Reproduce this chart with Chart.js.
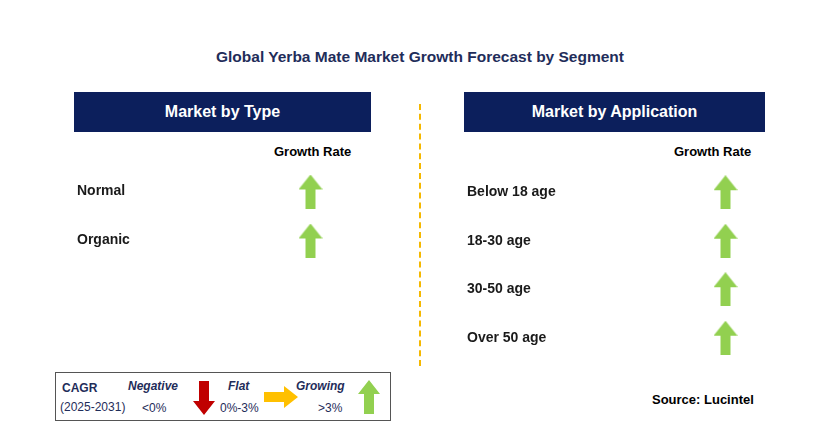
<!DOCTYPE html>
<html><head><meta charset="utf-8">
<script src="https://cdn.jsdelivr.net/npm/chart.js@4"></script>
<style>
body{margin:0;width:829px;height:448px;background:#fff;font-family:Arial,"Liberation Sans",sans-serif;position:relative;overflow:hidden}
.abs{position:absolute}
.title{left:0;width:840px;top:48px;text-align:center;font-weight:bold;font-size:15.5px;color:#1f2d5a}
.hdr{background:#0c1f5c;color:#fff;font-weight:bold;font-size:16px;text-align:center;line-height:40px;height:40px}
.gr{font-weight:bold;font-size:13px;color:#000}
.leg{left:55px;top:372px;width:334px;height:47px;border:1px solid #555;font-size:12px}
.leg span{position:absolute}
</style></head><body>
<div class="abs title">Global Yerba Mate Market Growth Forecast by Segment</div>
<div class="abs hdr" style="left:74px;top:92px;width:297px">Market by Type</div>
<div class="abs hdr" style="left:464px;top:92px;width:301px">Market by Application</div>
<div class="abs gr" style="left:274px;top:144px">Growth Rate</div>
<div class="abs gr" style="left:674px;top:144px">Growth Rate</div>
<div class="abs" style="left:419px;top:104px;height:262px;border-left:2px dashed #f5b800"></div>
<canvas id="left" class="abs" style="left:77px;top:154px"></canvas>
<canvas id="right" class="abs" style="left:467px;top:155px"></canvas>
<div class="abs leg">
 <span style="left:6px;top:8px;font-weight:bold;color:#1f2d5a">CAGR</span>
 <span style="left:4px;top:27px;color:#1f2d5a">(2025-2031)</span>
 <span style="left:72px;top:6px;font-weight:bold;font-style:italic;color:#1f2d5a">Negative</span>
 <span style="left:86px;top:28px;color:#1f2d5a">&lt;0%</span>
 <svg style="position:absolute;left:137px;top:8px" width="22" height="34"><polygon points="6,0 16,0 16,20 22,20 11,34 0,20 6,20" fill="#c00000"/></svg>
 <span style="left:172px;top:6px;font-weight:bold;font-style:italic;color:#1f2d5a">Flat</span>
 <span style="left:164px;top:28px;color:#1f2d5a">0%-3%</span>
 <svg style="position:absolute;left:208px;top:13px" width="34" height="22"><polygon points="0,6 20,6 20,0 34,11 20,22 20,16 0,16" fill="#ffc000"/></svg>
 <span style="left:240px;top:6px;font-weight:bold;font-style:italic;color:#1f2d5a">Growing</span>
 <span style="left:262px;top:28px;color:#1f2d5a">&gt;3%</span>
 <svg style="position:absolute;left:302px;top:7px" width="22" height="34"><polygon points="11,0 22,14 16,14 16,34 6,34 6,14 0,14" fill="#92d050"/></svg>
</div>
<div class="abs gr" style="left:652px;top:392px">Source: Lucintel</div>
<script>
const typeCategories = ['Normal', 'Organic'];
const typeGrowth = ['growing', 'growing'];
const appCategories = ['Below 18 age', '18-30 age', '30-50 age', 'Over 50 age'];
const appGrowth = ['growing', 'growing', 'growing', 'growing'];

function arrowImg(kind) {
    const c = document.createElement('canvas');
    c.width = 24; c.height = 34;
    const g = c.getContext('2d');
    g.fillStyle = kind === 'growing' ? '#92d050' : kind === 'flat' ? '#ffc000' : '#c00000';
    g.beginPath();
    g.moveTo(12, 0); g.lineTo(24, 15); g.lineTo(17, 15); g.lineTo(17, 34);
    g.lineTo(7, 34); g.lineTo(7, 15); g.lineTo(0, 15); g.closePath();
    g.fill();
    return c;
}

function panel(id, cats, growth, width, height, axisW) {
    const el = document.getElementById(id);
    el.width = width; el.height = height;
    el.style.width = width + 'px'; el.style.height = height + 'px';
    new Chart(el, {
        type: 'scatter',
        data: { datasets: [{
            data: cats.map((c, i) => ({ x: 0.5, y: i })),
            pointStyle: growth.map(arrowImg),
            pointRadius: 12
        }] },
        options: {
            responsive: false, animation: false,
            layout: { padding: 0 },
            plugins: { legend: { display: false }, tooltip: { enabled: false } },
            scales: {
                x: { type: 'linear', min: 0, max: 1, display: false },
                y: { type: 'linear', min: -0.5, max: cats.length - 0.5, reverse: true,
                     grid: { display: false }, border: { display: false },
                     afterBuildTicks: s => { s.ticks = cats.map((c, i) => ({ value: i })); },
                     ticks: { crossAlign: 'far', color: '#1a1a1a', padding: 0,
                              callback: v => cats[v],
                              font: { family: 'Arial', size: 14, weight: 'bold' } },
                     afterFit: s => { s.width = axisW; } }
            }
        }
    });
}
panel('left', typeCategories, typeGrowth, 290, 124, 190);
panel('right', appCategories, appGrowth, 315, 220, 215);
</script>
</body></html>
